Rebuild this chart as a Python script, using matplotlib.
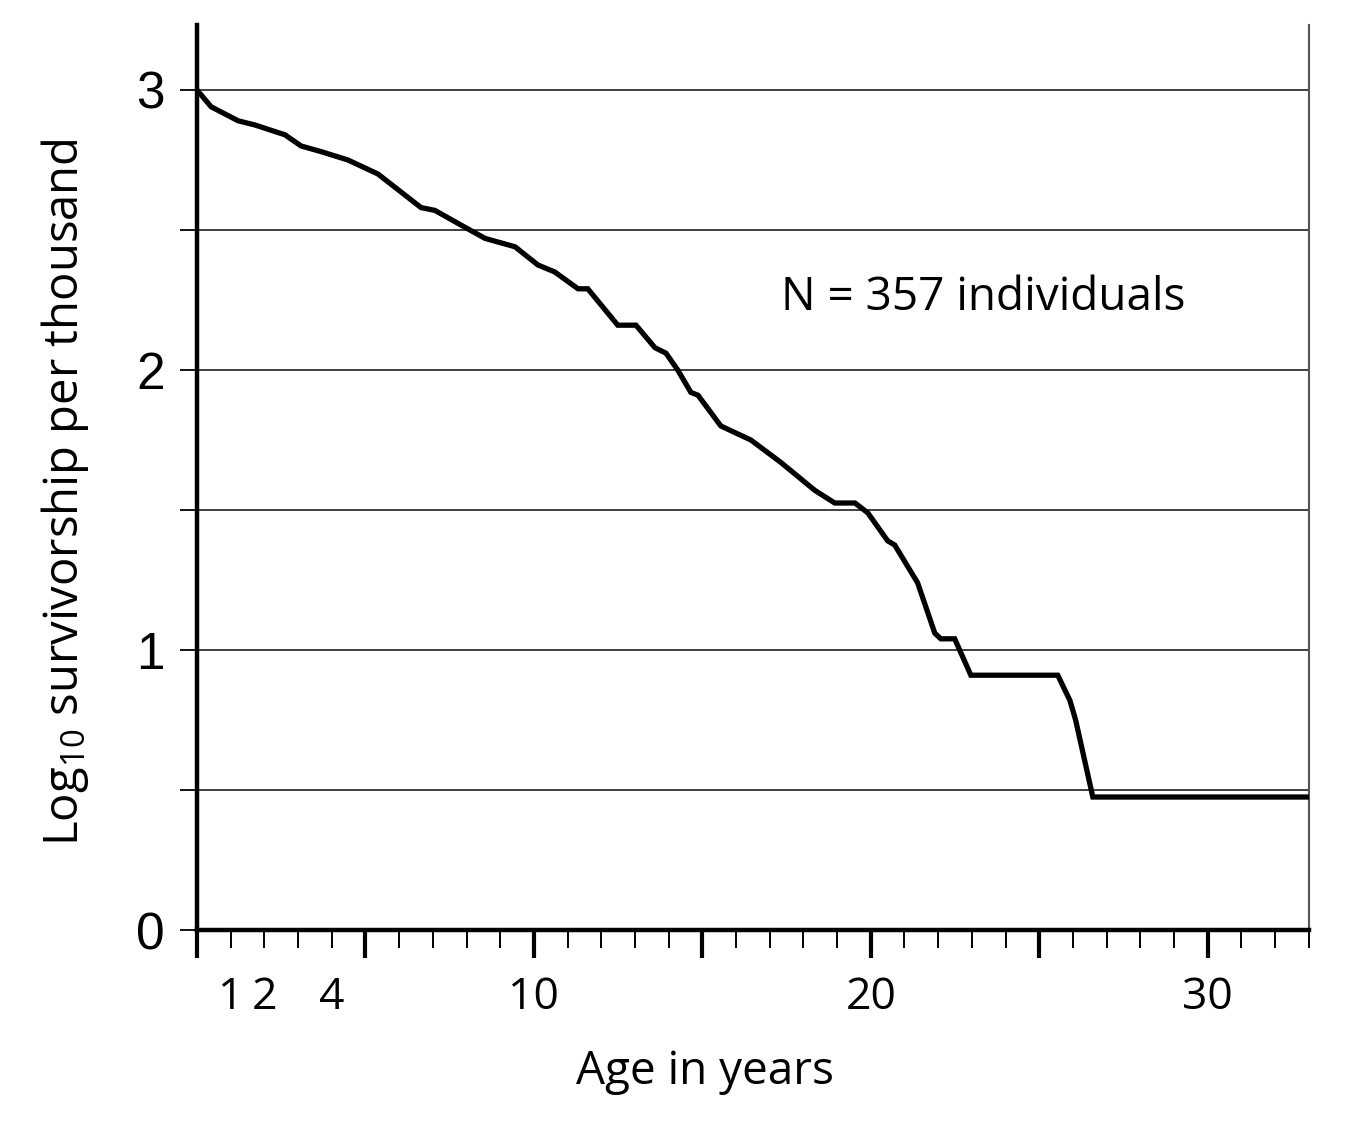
import matplotlib
matplotlib.use("Agg")
import matplotlib.pyplot as plt
from matplotlib.ticker import MultipleLocator

# Survivorship curve
age = [0, 0.42, 1.22, 1.72, 2.61, 3.09, 3.68, 4.48, 5.37, 6.65, 7.06, 7.95,
       8.55, 9.44, 10.12, 10.62, 11.31, 11.60, 12.49, 13.03, 13.59, 13.92,
       14.27, 14.66, 14.87, 15.55, 16.44, 17.33, 18.34, 18.93, 19.53, 19.91,
       20.50, 20.71, 21.39, 21.90, 22.08, 22.49, 22.97, 25.55, 25.91, 26.08,
       26.59, 33.0]
log_surv = [3.0, 2.94, 2.89, 2.875, 2.84, 2.80, 2.78, 2.75, 2.70, 2.58, 2.57,
            2.51, 2.47, 2.44, 2.375, 2.35, 2.29, 2.29, 2.16, 2.16, 2.08, 2.06,
            2.00, 1.92, 1.91, 1.80, 1.75, 1.67, 1.57, 1.525, 1.525, 1.49,
            1.39, 1.375, 1.24, 1.06, 1.04, 1.04, 0.91, 0.91, 0.82, 0.75,
            0.475, 0.475]

x_label_pos = [1, 2, 4, 10, 20, 30]
y_tick_vals = [0, 1, 2, 3]

sans = ["Open Sans", "DejaVu Sans"]
plt.rcParams["mathtext.default"] = "regular"

fig = plt.figure(figsize=(13.69, 11.22), dpi=100)
ax = fig.add_axes([0.1439, 0.1711, 0.8121, 0.8066])

ax.plot(age, log_surv, color="black", lw=3.8, solid_joinstyle="miter", zorder=3)

ax.set_xlim(0, 33)
ax.set_ylim(0, 3.232)

# gridlines every 0.5
ax.yaxis.set_major_locator(MultipleLocator(0.5))
ax.grid(axis="y", color="#333333", lw=1.3)
ax.set_yticklabels([str(int(v)) if v in y_tick_vals else "" for v in ax.get_yticks()],
                   family="Liberation Sans", fontsize=37)
ax.tick_params(axis="y", direction="out", length=12, width=1.3, pad=11)

ax.spines["top"].set_visible(False)
ax.spines["left"].set_linewidth(3.2)
ax.spines["bottom"].set_linewidth(3.2)
ax.spines["right"].set_linewidth(1.5)
ax.spines["right"].set_color("#555555")

# tick marks: long every 5, short every 1
ax.xaxis.set_major_locator(MultipleLocator(5))
ax.xaxis.set_minor_locator(MultipleLocator(1))
ax.tick_params(axis="x", which="major", direction="out", length=20, width=3,
               labelbottom=False)
ax.tick_params(axis="x", which="minor", direction="out", length=13, width=1.4)

# irregular labels on a secondary axis
sec = ax.secondary_xaxis("bottom")
sec.spines["bottom"].set_visible(False)
sec.set_xticks(x_label_pos)
sec.set_xticklabels([str(v) for v in x_label_pos], family=sans, fontsize=32)
sec.tick_params(length=0, pad=33)

ax.set_xlabel("Age in years", family=sans, fontsize=33, va="center")
ax.xaxis.set_label_coords(0.457, -0.157)

ax.set_ylabel("Log$_{10}$ survivorship per thousand", family=sans, fontsize=34,
              va="center")
ax.yaxis.set_label_coords(-0.119, 0.484)

ax.text(17.33, 2.257, "N = 357 individuals", family=sans, fontsize=33,
        ha="left", va="center")

fig.savefig("out.png", dpi=100)
